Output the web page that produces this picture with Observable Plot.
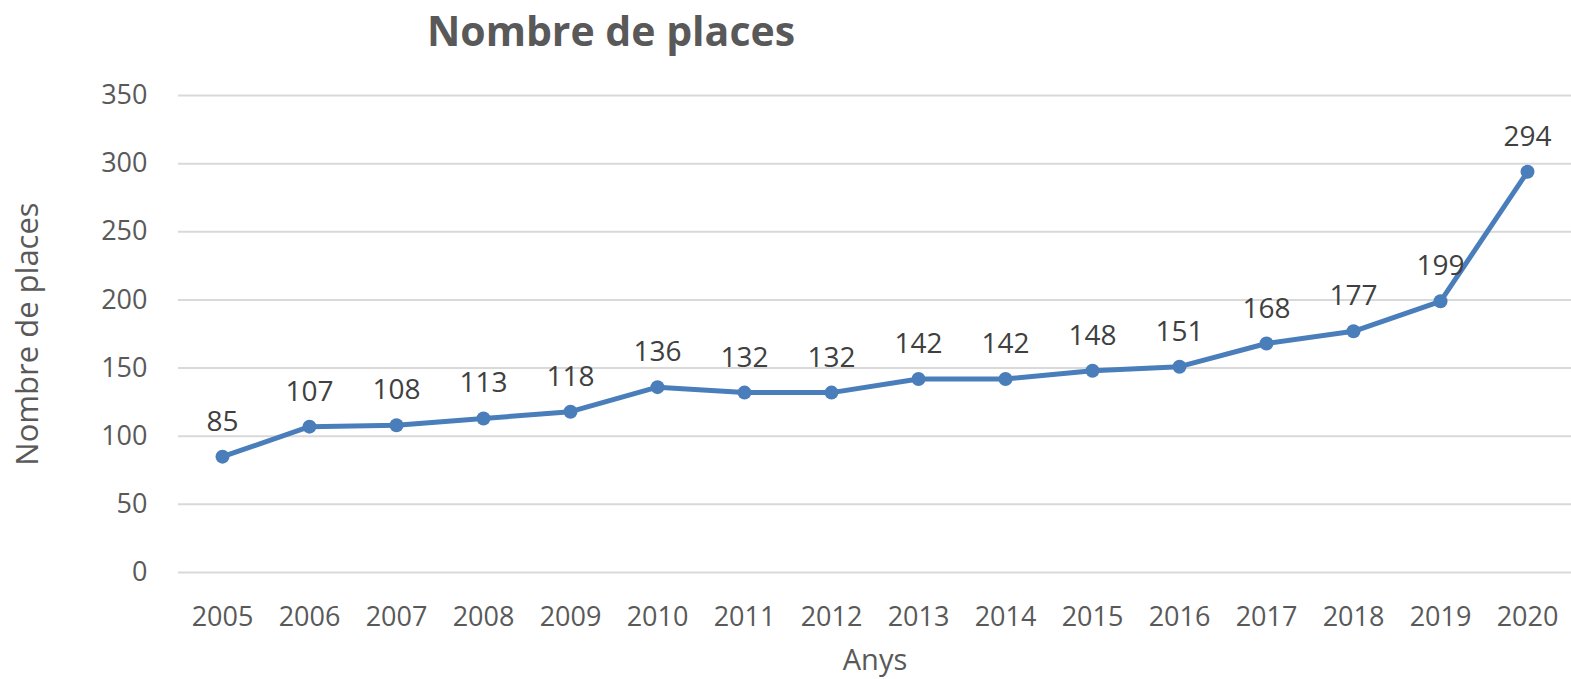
<!DOCTYPE html>
<html>
<head>
<meta charset="utf-8">
<script src="https://cdn.jsdelivr.net/npm/d3@7"></script>
<script src="https://cdn.jsdelivr.net/npm/@observablehq/plot@0.6"></script>
<style>
  html, body { margin: 0; padding: 0; background: #fff; }
  #wrap { position: relative; width: 1571px; height: 679px; }
  #title { position: absolute; top: 2px; left: 0; width: 1222px; text-align: center;
           font-family: "Open Sans", sans-serif; font-weight: bold; font-size: 41px; color: #595959; }
</style>
</head>
<body>
<div id="wrap">
  <div id="chart"></div>
  <div id="title">Nombre de places</div>
</div>
<script>
const years = ["2005","2006","2007","2008","2009","2010","2011","2012","2013","2014","2015","2016","2017","2018","2019","2020"];
const places = [85,107,108,113,118,136,132,132,142,142,148,151,168,177,199,294];
const yTicks = [0,50,100,150,200,250,300,350];

const data = years.map((y, i) => ({year: y, value: places[i]}));
const font = "'Open Sans', sans-serif";
const color = "#4a7ebb";

const chart = Plot.plot({
  width: 1571,
  height: 679,
  marginLeft: 178,
  marginRight: 0,
  marginTop: 95,
  marginBottom: 107,
  style: {fontFamily: font, fontSize: "27px", color: "#595959", background: "#fff"},
  x: {type: "point", domain: years, padding: 0.5},
  y: {domain: [0, 350]},
  marks: [
    Plot.gridY(yTicks, {stroke: "#d9d9d9", strokeOpacity: 1, strokeWidth: 2}),
    Plot.axisY(yTicks, {tickSize: 0, tickPadding: 31, label: null, fill: "#595959", fontSize: 27}),
    Plot.axisX({tickSize: 0, tickPadding: 34, label: null, fill: "#595959", fontSize: 27}),
    Plot.text(["Nombre de places"], {frameAnchor: "left", textAnchor: "middle", lineAnchor: "middle", rotate: -90, dx: -150, fill: "#595959", fontSize: 31}),
    Plot.text(["Anys"], {frameAnchor: "bottom", lineAnchor: "middle", dy: 88, fill: "#595959", fontSize: 29}),
    Plot.line(data, {x: "year", y: "value", stroke: color, strokeWidth: 5}),
    Plot.dot(data, {x: "year", y: "value", fill: color, r: 7}),
    Plot.text(data, {x: "year", y: "value", text: d => String(d.value), dy: -35, fill: "#404040", fontSize: 28})
  ]
});
document.getElementById("chart").appendChild(chart);
</script>
</body>
</html>
